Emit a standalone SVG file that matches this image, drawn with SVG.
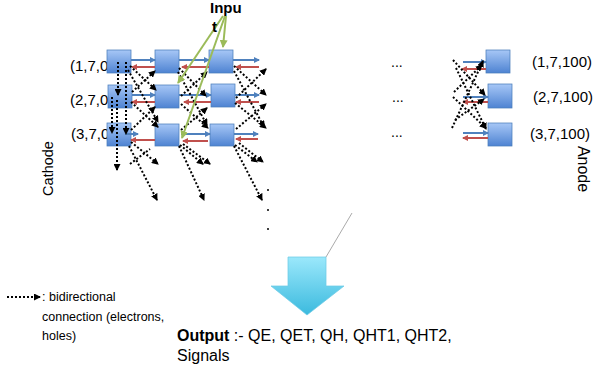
<svg xmlns="http://www.w3.org/2000/svg" width="600" height="373" viewBox="0 0 600 373">
<defs>
<linearGradient id="boxGrad" x1="0" y1="0" x2="0" y2="1">
<stop offset="0" stop-color="#a7c7f6"/>
<stop offset="1" stop-color="#4e83d2"/>
</linearGradient>
<linearGradient id="arrowGrad" x1="0" y1="0" x2="0" y2="1">
<stop offset="0" stop-color="#9be8fb"/>
<stop offset="1" stop-color="#3bbade"/>
</linearGradient>
<marker id="ak" markerUnits="userSpaceOnUse" markerWidth="7" markerHeight="7" refX="6" refY="3.5" orient="auto"><path d="M0,0 L7,3.5 L0,7 z" fill="#000"/></marker>
<marker id="ab" markerUnits="userSpaceOnUse" markerWidth="6" markerHeight="6" refX="5" refY="3" orient="auto"><path d="M0,0 L6,3 L0,6 z" fill="#4f81bd"/></marker>
<marker id="ar" markerUnits="userSpaceOnUse" markerWidth="6" markerHeight="6" refX="5" refY="3" orient="auto"><path d="M0,0 L6,3 L0,6 z" fill="#c0504d"/></marker>
<marker id="ag" markerUnits="userSpaceOnUse" markerWidth="8" markerHeight="8" refX="7" refY="4" orient="auto"><path d="M0,0 L8,4 L0,8 z" fill="#9bbb59"/></marker>
</defs>
<style>
text { font-family: "Liberation Sans", Arial, sans-serif; fill: #000; }
.lbl { font-size: 15px; }
.box { fill: url(#boxGrad); stroke: #4a7ebb; stroke-width: 0.75; }
.blue { stroke: #4f81bd; stroke-width: 2; marker-end: url(#ab); fill: none; }
.red { stroke: #c0504d; stroke-width: 2; marker-end: url(#ar); fill: none; }
.dot { stroke: #000; stroke-width: 2; stroke-dasharray: 2 2; marker-end: url(#ak); fill: none; }
.dotn { stroke: #000; stroke-width: 2; stroke-dasharray: 2 2; fill: none; }
.green { stroke: #9bbb59; stroke-width: 2; marker-end: url(#ag); fill: none; }
</style>

<g id="labels-left">
<text class="lbl" x="70" y="71">(1,7,0</text>
<text class="lbl" x="70" y="105">(2,7,0</text>
<text class="lbl" x="71" y="139">(3,7,0</text>
</g>

<g id="nodes">
<g id="n-1-0"><rect class="box" x="107" y="50" width="24" height="23"/></g>
<g id="n-2-0"><rect class="box" x="108" y="85" width="24" height="23"/></g>
<g id="n-3-0"><rect class="box" x="107" y="123" width="24" height="23"/></g>
<g id="n-1-1"><rect class="box" x="155" y="50" width="24" height="23"/></g>
<g id="n-2-1"><rect class="box" x="155" y="85" width="24" height="23"/></g>
<g id="n-3-1"><rect class="box" x="155" y="124" width="24" height="22"/></g>
<g id="n-1-2"><rect class="box" x="209" y="50" width="24" height="23"/></g>
<g id="n-2-2"><rect class="box" x="211" y="84" width="24" height="23"/></g>
<g id="n-3-2"><rect class="box" x="210" y="124" width="24" height="22"/></g>
<g id="n-1-100"><rect class="box" x="486" y="50" width="24" height="23"/></g>
<g id="n-2-100"><rect class="box" x="488" y="84" width="24" height="24"/></g>
<g id="n-3-100"><rect class="box" x="488" y="123" width="24" height="23"/></g>
</g>

<g id="connectors">
<g id="flow-arrows">
<line class="blue" x1="131" y1="60" x2="155" y2="60"/>
<line class="blue" x1="179" y1="60" x2="209" y2="60"/>
<line class="blue" x1="233" y1="60" x2="259" y2="60"/>
<line class="red" x1="155" y1="67" x2="132" y2="67"/>
<line class="red" x1="209" y1="67" x2="182" y2="67"/>
<line class="red" x1="259" y1="67" x2="236" y2="67"/>
<line class="blue" x1="132" y1="95" x2="155" y2="95"/>
<line class="blue" x1="179" y1="95" x2="211" y2="95"/>
<line class="blue" x1="235" y1="95" x2="259" y2="95"/>
<line class="red" x1="155" y1="102" x2="132" y2="102"/>
<line class="red" x1="211" y1="102" x2="184" y2="102"/>
<line class="red" x1="259" y1="102" x2="236" y2="102"/>
<line class="blue" x1="125" y1="134" x2="138" y2="134"/>
<line class="blue" x1="181" y1="134" x2="210" y2="134"/>
<line class="blue" x1="234" y1="134" x2="258" y2="134"/>
<line class="red" x1="155" y1="140" x2="131" y2="140"/>
<line class="red" x1="208" y1="141" x2="183" y2="141"/>
<line class="red" x1="258" y1="139" x2="236" y2="139"/>
<line class="blue" x1="463" y1="62" x2="486" y2="62"/>
<line class="red" x1="486" y1="69" x2="462" y2="69"/>
<line class="blue" x1="463" y1="97" x2="488" y2="97"/>
<line class="red" x1="488" y1="102" x2="463" y2="102"/>
<line class="blue" x1="463" y1="133" x2="488" y2="133"/>
<line class="red" x1="488" y1="138" x2="463" y2="138"/>
</g>
<g id="bidirectional-links">
<path class="dot" d="M118,62 V95"/>
<path class="dot" d="M126,62 V134"/>
<path class="dot" d="M112,97 V133"/>
<path class="dot" d="M117,100 V170"/>
<path class="dot" d="M130,66 L156,90"/>
<path class="dot" d="M132,92 L155,71"/>
<path class="dot" d="M128,70 L158,122"/>
<path class="dot" d="M131,102 L158,127"/>
<path class="dot" d="M131,130 L155,107"/>
<path class="dot" d="M131,142 L158,164"/>
<path class="dot" d="M129,146 L157,200"/>
<path class="dotn" d="M130,164 L150,149"/>
<path class="dot" d="M179,68 L206,96"/>
<path class="dot" d="M181,96 L207,72"/>
<path class="dot" d="M178,72 L207,125"/>
<path class="dot" d="M181,104 L208,128"/>
<path class="dot" d="M181,130 L207,108"/>
<path class="dot" d="M179,146 L204,200"/>
<path class="dot" d="M180,145 L203,164"/>
<path class="dot" d="M183,144 L210,164"/>
<path class="dot" d="M234,66 L266,95"/>
<path class="dot" d="M236,98 L266,69"/>
<path class="dot" d="M234,71 L264,127"/>
<path class="dot" d="M235,103 L266,128"/>
<path class="dot" d="M236,129 L266,104"/>
<path class="dot" d="M234,146 L262,200"/>
<path class="dot" d="M235,145 L257,162"/>
<path class="dot" d="M239,143 L263,162"/>
<path class="dot" d="M453,60 L485,95"/>
<path class="dot" d="M456,68 L486,129"/>
<path class="dot" d="M452,128 L483,61"/>
<path class="dot" d="M453,97 L486,128"/>
<path class="dot" d="M455,120 L484,99"/>
<path class="dot" d="M454,92 L482,65"/>
</g>
<g id="input-links">
<line class="green" x1="223" y1="16" x2="178" y2="83"/>
<line class="green" x1="225" y1="16" x2="182" y2="138"/>
<line class="green" x1="226" y1="16" x2="223" y2="47"/>
</g>
<line id="thin-line" x1="326" y1="257" x2="352" y2="213" stroke="#aaaaaa" stroke-width="1"/>
</g>

<g id="input-label">
<text x="210" y="13" font-size="15" font-weight="bold">Inpu</text>
<text x="212" y="32" font-size="15" font-weight="bold">t</text>
</g>

<g id="ellipsis">
<text x="391" y="67" font-size="14">...</text>
<text x="392" y="102" font-size="14">...</text>
<text x="391" y="137" font-size="14">...</text>
<circle cx="268" cy="190" r="1" fill="#000"/>
<circle cx="268" cy="210" r="1" fill="#000"/>
<circle cx="268" cy="229" r="1" fill="#000"/>
</g>

<g id="labels-right">
<text class="lbl" x="532" y="67">(1,7,100)</text>
<text class="lbl" x="533" y="102">(2,7,100)</text>
<text class="lbl" x="530" y="139">(3,7,100)</text>
</g>

<g id="cathode"><text transform="translate(53,168.5) rotate(-90)" text-anchor="middle" font-size="14.5">Cathode</text></g>
<g id="anode"><text transform="translate(578,169) rotate(90)" text-anchor="middle" font-size="16">Anode</text></g>

<g id="output-arrow">
<path d="M288,257 H326 V286 H344 L307,315 L271,286 H288 Z" fill="url(#arrowGrad)" stroke="#6fcbe6" stroke-width="0.75"/>
</g>

<g id="output">
<text x="177" y="341" font-size="16"><tspan font-weight="bold">Output</tspan> :- QE, QET, QH, QHT1, QHT2,</text>
<text x="177" y="361" font-size="16">Signals</text>
</g>

<g id="legend">
<path class="dot" d="M7,297 H40"/>
<text x="42" y="301" font-size="12.5">: bidirectional</text>
<text x="42" y="321" font-size="12.5">connection (electrons,</text>
<text x="42" y="340" font-size="12.5">holes)</text>
</g>
</svg>
